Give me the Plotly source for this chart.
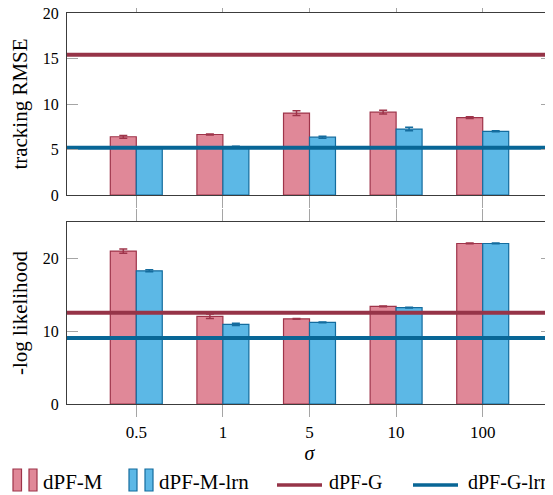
import plotly.graph_objects as go
from plotly.subplots import make_subplots

sigma_labels = ["0.5", "1", "5", "10", "100"]
xpos = [0, 1, 2, 3, 4]

rmse_m = [6.4, 6.65, 9.0, 9.1, 8.5]
rmse_m_err = [0.15, 0.05, 0.25, 0.2, 0.1]
rmse_lrn = [5.2, 5.3, 6.35, 7.25, 7.0]
rmse_lrn_err = [0.05, 0.05, 0.1, 0.2, 0.05]
rmse_g = 15.4
rmse_g_lrn = 5.2

nll_m = [21.0, 12.05, 11.7, 13.4, 22.05]
nll_m_err = [0.3, 0.3, 0.05, 0.05, 0.05]
nll_lrn = [18.3, 10.95, 11.2, 13.25, 22.05]
nll_lrn_err = [0.15, 0.15, 0.05, 0.05, 0.05]
nll_g = 12.55
nll_g_lrn = 9.05

series_names = ["dPF-M", "dPF-M-lrn", "dPF-G", "dPF-G-lrn"]

XMIN, XMAX = -0.8, 4.8

PINK = "rgb(224,136,152)"
PINK_EDGE = "rgb(158,52,74)"
BLUE = "rgb(92,184,230)"
BLUE_EDGE = "rgb(20,108,158)"
RED_LINE = "rgb(150,52,72)"
BLUE_LINE = "rgb(8,102,150)"

FONT = '"Liberation Serif", "Times New Roman", serif'

# the page body has a default 8px margin; compensate so the figure lands where the reference is
OFF = 8
W, H = 553 - OFF, 495 - OFF
ML, MT = 67 - OFF, 13 - OFF
MR = W - (552 - OFF)
MB = H - (404 - OFF)
PW, PH = W - ML - MR, H - MT - MB

fig = make_subplots(rows=2, cols=1, shared_xaxes=False, vertical_spacing=27 / PH)

def add_panel(row, m, m_err, lrn, lrn_err, g, g_lrn):
    fig.add_trace(go.Bar(x=xpos, y=m, name=series_names[0], marker=dict(color=PINK, line=dict(color=PINK_EDGE, width=1.2)),
                         error_y=dict(type="data", array=m_err, color=PINK_EDGE, thickness=1.5, width=4),
                         showlegend=False), row=row, col=1)
    fig.add_trace(go.Bar(x=xpos, y=lrn, name=series_names[1], marker=dict(color=BLUE, line=dict(color=BLUE_EDGE, width=1.2)),
                         error_y=dict(type="data", array=lrn_err, color=BLUE_EDGE, thickness=1.5, width=4),
                         showlegend=False), row=row, col=1)
    fig.add_trace(go.Scatter(x=[XMIN, XMAX], y=[g, g], mode="lines", name=series_names[2],
                             line=dict(color=RED_LINE, width=4), showlegend=False), row=row, col=1)
    fig.add_trace(go.Scatter(x=[XMIN, XMAX], y=[g_lrn, g_lrn], mode="lines", name=series_names[3],
                             line=dict(color=BLUE_LINE, width=4), showlegend=False), row=row, col=1)

add_panel(1, rmse_m, rmse_m_err, rmse_lrn, rmse_lrn_err, rmse_g, rmse_g_lrn)
add_panel(2, nll_m, nll_m_err, nll_lrn, nll_lrn_err, nll_g, nll_g_lrn)

xcommon = dict(range=[XMIN, XMAX], tickvals=xpos, ticktext=sigma_labels, ticks="outside", ticklen=12,
               tickcolor="rgb(165,165,165)", tickwidth=1.2, showline=True, linecolor="rgb(60,60,60)",
               linewidth=1.2, mirror="ticks", showgrid=False, zeroline=False, automargin=False,
               tickfont=dict(family=FONT, size=17, color="black"))
fig.update_xaxes(**xcommon)
fig.update_xaxes(showticklabels=False, row=1, col=1)
fig.update_xaxes(title=dict(text="<i>σ</i>", font=dict(family=FONT, size=20, color="black"), standoff=0), row=2, col=1)

ycommon = dict(ticks="inside", ticklen=11, tickcolor="rgb(165,165,165)", tickwidth=1.2, showline=True,
               linecolor="rgb(60,60,60)", linewidth=1.2, mirror="ticks", showgrid=False, zeroline=False,
               automargin=False, ticklabelstandoff=4, ticklabeloverflow="allow",
               tickfont=dict(family=FONT, size=16, color="black"))
fig.update_yaxes(**ycommon)
fig.update_yaxes(range=[0, 20], tickvals=[0, 5, 10, 15, 20],
                 title=dict(text="tracking RMSE", font=dict(family=FONT, size=21, color="black"), standoff=12),
                 row=1, col=1)
fig.update_yaxes(range=[0, 25], tickvals=[0, 10, 20],
                 title=dict(text="-log likelihood", font=dict(family=FONT, size=21, color="black"), standoff=12),
                 row=2, col=1)

# custom legend (positions given in reference pixels)
def px_x(p):
    return (p - OFF - ML) / PW

def px_y(p):
    return (H - MB - (p - OFF)) / PH

shapes = []
annotations = []
leg_top, leg_bot, leg_mid, leg_line = 469, 491, 482, 485
bar_icons = [((13, 21.5), (29, 37), PINK, PINK_EDGE, 41, series_names[0]),
             ((129, 137), (145, 153), BLUE, BLUE_EDGE, 157, series_names[1])]
for b1, b2, fc, ec, tx, name in bar_icons:
    for (a, b) in (b1, b2):
        shapes.append(dict(type="rect", xref="paper", yref="paper", x0=px_x(a), x1=px_x(b),
                           y0=px_y(leg_bot), y1=px_y(leg_top), fillcolor=fc, line=dict(color=ec, width=1.2)))
    annotations.append(dict(text=name, xref="paper", yref="paper", x=px_x(tx), y=px_y(leg_mid),
                            xanchor="left", yanchor="middle", showarrow=False,
                            font=dict(family=FONT, size=21, color="black")))
line_icons = [((277, 322), RED_LINE, 327, "left", series_names[2]),
              ((413, 458), BLUE_LINE, 552, "right", series_names[3])]
for (a, b), lc, tx, anc, name in line_icons:
    shapes.append(dict(type="line", xref="paper", yref="paper", x0=px_x(a), x1=px_x(b),
                       y0=px_y(leg_line), y1=px_y(leg_line), line=dict(color=lc, width=3.5)))
    annotations.append(dict(text=name, xref="paper", yref="paper", x=px_x(tx), y=px_y(leg_mid),
                            xanchor=anc, yanchor="middle", showarrow=False,
                            font=dict(family=FONT, size=20, color="black")))

fig.update_layout(
    width=W, height=H,
    margin=dict(l=ML, r=MR, t=MT, b=MB, autoexpand=False),
    plot_bgcolor="white", paper_bgcolor="white",
    barmode="group", bargap=0.4, bargroupgap=0,
    font=dict(family=FONT, color="black"),
    showlegend=False,
    shapes=shapes,
)
for a in annotations:
    fig.add_annotation(**a)

fig.write_html("out.html")
